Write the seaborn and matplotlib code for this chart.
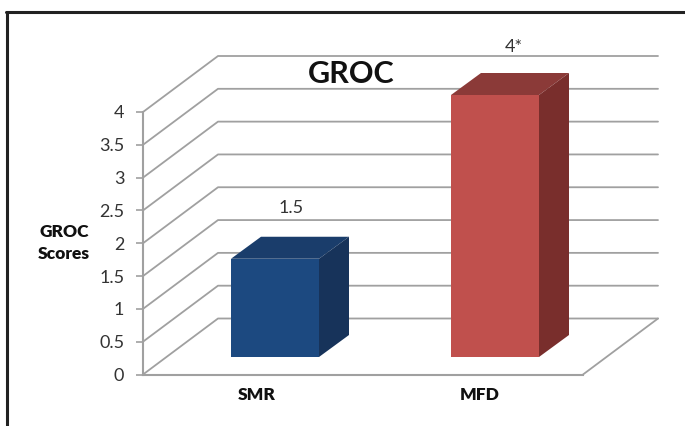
import matplotlib
matplotlib.use('Agg')
import matplotlib.pyplot as plt
from matplotlib.lines import Line2D
from matplotlib.patches import Polygon
import pandas as pd
import seaborn as sns

categories = ['SMR', 'MFD']
scores = [1.5, 4]
score_labels = ['1.5', '4*']
y_ticks = [0, 0.5, 1, 1.5, 2, 2.5, 3, 3.5, 4]
y_tick_labels = ['0', '0.5', '1', '1.5', '2', '2.5', '3', '3.5', '4']

front_colors = ['#1C4980', '#C0504D']
top_colors = ['#1A3D6B', '#8B3A38']
side_colors = ['#17335A', '#792E2C']
grid_color = '#A0A0A0'

W, H = 685, 426


def axes_box(left, right, bottom, top):
    # pixel box (y from the top of the image) to figure fractions
    return [left / W, (H - bottom) / H, (right - left) / W, (bottom - top) / H]


sns.set_style('white')
plt.rcParams['font.family'] = ['Lato', 'DejaVu Sans']

fig = plt.figure(figsize=(W / 100, H / 100), dpi=100)

# "wall" axes: the y axis, the floor and the receding grid
ax = fig.add_axes(axes_box(143, 583, 374.5, 112))
ax.set_facecolor('none')
ax.set_xlim((143 - 257) / 223, (583 - 257) / 223)
ax.set_ylim(0, 4)
x0, x1 = ax.get_xlim()
px_x = 223.0
px_y = 262.5 / 4
wall_dx = 75 / px_x
wall_dy = 56 / px_y
wall_right = x0 + (658 - 143) / px_x

for v in y_ticks:
    ax.plot([x0, x0 + wall_dx, wall_right], [v, v + wall_dy, v + wall_dy],
            color=grid_color, lw=1.3, clip_on=False, zorder=1)
ax.plot([x1, wall_right], [0, wall_dy], color=grid_color, lw=1.3, clip_on=False, zorder=1)

sns.despine(ax=ax)
for side in ['left', 'bottom']:
    ax.spines[side].set_color(grid_color)
    ax.spines[side].set_linewidth(1.5)
ax.set_xticks([0, 1])
ax.set_xticklabels(categories, fontweight='heavy', fontsize=12.5, color='#111111')
ax.tick_params(axis='x', length=0, pad=9)
ax.set_yticks(y_ticks)
ax.set_yticklabels(y_tick_labels, fontsize=13, color='#333333')
ax.tick_params(axis='y', left=True, length=5, width=1.2, color=grid_color, pad=8.5)
ax.set_ylabel('GROC\nScores', rotation=0, fontweight='heavy', fontsize=12.5,
              color='#111111', ha='center', va='center', linespacing=1.4)
ax.yaxis.set_label_coords((64 - 143) / 440, (374.5 - 243) / 262.5)
ax.set_title('GROC', fontweight='bold', fontsize=22, color='#111111',
             x=(351 - 143) / 440, y=(374.5 - 83) / 262.5, pad=0)

# "bar" axes: same values, shifted back onto the plane the columns stand on
ax_bar = fig.add_axes(axes_box(143, 583, 357, 95))
ax_bar.set_facecolor('none')
df = pd.DataFrame({'Group': categories, 'Score': scores})
sns.barplot(data=df, x='Group', y='Score', hue='Group', palette=front_colors,
            saturation=1, width=0.4, legend=False, linewidth=0, ax=ax_bar)
ax_bar.set_xlim((143 - 275) / 220, (583 - 275) / 220)
ax_bar.set_ylim(0, 4)
ax_bar.axis('off')

depth_x = 30 / 220
depth_y = 22 / (262 / 4)
half = 0.2
label_offsets = [(16, 51), (19, 48)]
for i, v in enumerate(scores):
    ax_bar.add_patch(Polygon([(i - half, v), (i + half, v),
                              (i + half + depth_x, v + depth_y), (i - half + depth_x, v + depth_y)],
                             closed=True, fc=top_colors[i], ec='none', clip_on=False))
    ax_bar.add_patch(Polygon([(i + half, 0), (i + half + depth_x, depth_y),
                              (i + half + depth_x, v + depth_y), (i + half, v)],
                             closed=True, fc=side_colors[i], ec='none', clip_on=False))
    dx, dy = label_offsets[i]
    ax_bar.annotate(score_labels[i], xy=(i, v), xytext=(dx * 0.72, dy * 0.72),
                    textcoords='offset points', ha='center', va='center',
                    fontsize=13, color='#333333', annotation_clip=False)

# picture frame: only the left and top edges
fig.add_artist(Line2D([7 / W, 7 / W], [0, 1 - 12 / H], color='#222222', lw=2.2))
fig.add_artist(Line2D([6 / W, 1], [1 - 12 / H, 1 - 12 / H], color='#222222', lw=2.2))

fig.savefig('out.png', dpi=100)
